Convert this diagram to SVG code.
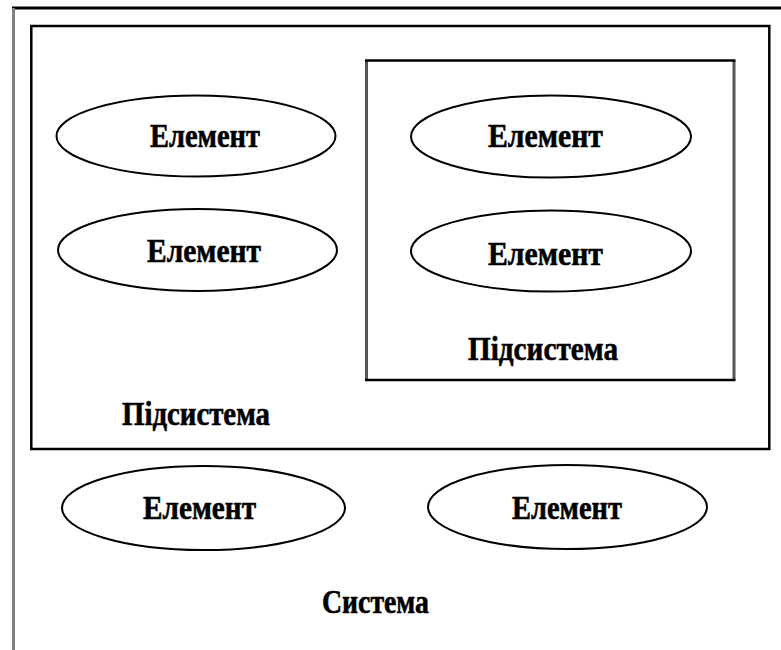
<svg xmlns="http://www.w3.org/2000/svg" width="781" height="650" viewBox="0 0 781 650">
  <defs>
    <style>
      .frame { fill: none; stroke: #000; stroke-width: 2.5; }
      .side { stroke: #555; stroke-width: 3; }
      .elem { fill: #fff; stroke: #000; stroke-width: 2; }
      .lbl { font-family: "Liberation Serif", "Times New Roman", serif; font-weight: bold; font-size: 33px; fill: #000; stroke: #000; stroke-width: 0.6; }
    </style>
  </defs>
  <rect x="0" y="0" width="781" height="650" fill="#fff"/>

  <!-- system frame: top edge and left edge -->
  <g id="system">
    <line x1="12" y1="8" x2="781" y2="8" stroke="#000" stroke-width="3"/>
    <line x1="13.5" y1="8" x2="13.5" y2="650" stroke="#808080" stroke-width="3"/>
    <text class="lbl" x="322" y="613" textLength="107" lengthAdjust="spacingAndGlyphs">Система</text>
  </g>

  <!-- outer subsystem -->
  <g id="subsystem-outer">
    <rect class="frame" x="31.3" y="26" width="738" height="423"/>
    <text class="lbl" x="122" y="425" textLength="148" lengthAdjust="spacingAndGlyphs">Підсистема</text>
  </g>

  <!-- nested subsystem -->
  <g id="subsystem-inner">
    <line class="side" x1="366.5" y1="60.5" x2="366.5" y2="380"/>
    <line class="side" x1="734" y1="60.5" x2="734" y2="380"/>
    <line x1="365" y1="60.5" x2="735.5" y2="60.5" stroke="#000" stroke-width="2.5"/>
    <line x1="365" y1="380" x2="735.5" y2="380" stroke="#000" stroke-width="2.5"/>
    <text class="lbl" x="468" y="360" textLength="150" lengthAdjust="spacingAndGlyphs">Підсистема</text>
  </g>

  <g id="element-1">
    <ellipse class="elem" cx="196" cy="136" rx="139.5" ry="40.5"/>
    <text class="lbl" x="150" y="146.5" textLength="110" lengthAdjust="spacingAndGlyphs">Елемент</text>
  </g>
  <g id="element-2">
    <ellipse class="elem" cx="197.5" cy="250" rx="139.5" ry="41"/>
    <text class="lbl" x="147" y="262" textLength="114" lengthAdjust="spacingAndGlyphs">Елемент</text>
  </g>
  <g id="element-3">
    <ellipse class="elem" cx="551" cy="136.5" rx="140" ry="41"/>
    <text class="lbl" x="488" y="147" textLength="115" lengthAdjust="spacingAndGlyphs">Елемент</text>
  </g>
  <g id="element-4">
    <ellipse class="elem" cx="551" cy="251" rx="140" ry="40.5"/>
    <text class="lbl" x="488" y="265" textLength="115" lengthAdjust="spacingAndGlyphs">Елемент</text>
  </g>
  <g id="element-5">
    <ellipse class="elem" cx="203.5" cy="508" rx="141.5" ry="42"/>
    <text class="lbl" x="143" y="519" textLength="113" lengthAdjust="spacingAndGlyphs">Елемент</text>
  </g>
  <g id="element-6">
    <ellipse class="elem" cx="567.5" cy="507" rx="139.5" ry="42"/>
    <text class="lbl" x="512" y="519" textLength="110" lengthAdjust="spacingAndGlyphs">Елемент</text>
  </g>

  <g id="connectors"/>
</svg>
